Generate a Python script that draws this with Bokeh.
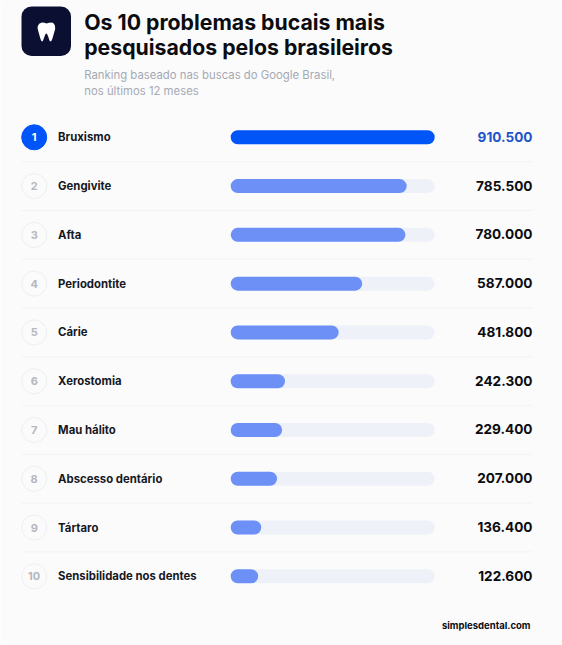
from bokeh.plotting import figure
from bokeh.models import Range1d
from bokeh.core.properties import value
from bokeh.embed import file_html
from bokeh.resources import INLINE

ranks = [1, 2, 3, 4, 5, 6, 7, 8, 9, 10]
names = ["Bruxismo", "Gengivite", "Afta", "Periodontite", "Cárie", "Xerostomia",
         "Mau hálito", "Abscesso dentário", "Tártaro", "Sensibilidade nos dentes"]
searches = [910500, 785500, 780000, 587000, 481800, 242300, 229400, 207000, 136400, 122600]
value_labels = ["910.500", "785.500", "780.000", "587.000", "481.800", "242.300",
                "229.400", "207.000", "136.400", "122.600"]
title_lines = ["Os 10 problemas bucais mais", "pesquisados pelos brasileiros"]
subtitle_lines = ["Ranking baseado nas buscas do Google Brasil,", "nos últimos 12 meses"]
footer = "simplesdental.com"

W, H = 562, 645
BAR_L, BAR_W = 230.2, 204.0
ROW0, ROW_H = 136.8, 48.78
MAXV = max(searches)
k = MAXV / BAR_W
BG = "#FBFBFC"
FONT = value("Inter")

p = figure(width=W, height=H, output_backend="svg", toolbar_location=None,
           x_range=Range1d(-BAR_L * k, (W - BAR_L) * k),
           y_range=Range1d(1 + (H - ROW0) / ROW_H, 1 - ROW0 / ROW_H),
           min_border=0, outline_line_color=None, background_fill_color=BG,
           border_fill_color=BG, x_axis_location=None, y_axis_location=None,
           styles={"position": "absolute", "left": "0", "top": "0"})
p.grid.visible = False
p.extra_x_ranges = {"px": Range1d(0, W)}
p.extra_y_ranges = {"px": Range1d(H, 0)}
PX = dict(x_range_name="px", y_range_name="px")

# separators
p.segment([21] * 9, [ROW0 + ROW_H * (i + .5) for i in range(9)],
          [532] * 9, [ROW0 + ROW_H * (i + .5) for i in range(9)],
          line_color="#F2F3F5", line_width=1, **PX)

# tracks and bars
bar_h = 14 / ROW_H
p.hbar(y=ranks, left=0, right=[MAXV] * 10, height=bar_h, fill_color="#EEF1F8",
       line_color=None, border_radius=7)
p.hbar(y=ranks, left=0, right=searches, height=bar_h, line_color=None, border_radius=7,
       fill_color=["#0055F8"] + ["#6C90F5"] * 9)

# rank circles
sx = [33.7] * 10
sy = [ROW0 + ROW_H * (r - 1) for r in ranks]
p.scatter(sx, sy, size=25, fill_color=["#0055F8"] + [BG] * 9,
          line_color=["#0055F8"] + ["#EEEFF2"] * 9, line_width=1, **PX)
p.text(sx, sy, text=[str(r) for r in ranks], text_align="center", text_baseline="middle",
       text_font=FONT, text_font_size="11px", text_font_style="bold",
       text_color=["#FFFFFF"] + ["#B4B7BD"] * 9, **PX)

# labels and values
p.text([57.6] * 10, sy, text=names, text_baseline="middle", text_font=FONT,
       text_font_size="11.35px", text_font_style="bold", text_color="#16181F", **PX)
p.text([532] * 10, [y - 0.5 for y in sy], text=value_labels, text_align="right", text_baseline="middle",
       text_font=FONT, text_font_size="13.6px", text_font_style="bold",
       text_color=["#1F55C8"] + ["#0B0C10"] * 9, **PX)

# header
p.quad(left=[21], right=[70.5], top=[6], bottom=[55.5], fill_color="#0B1033",
       line_color=None, border_radius=10, **PX)
tooth_x = [37, 37.5, 39, 41.5, 44, 46, 48.5, 51.5, 53.5, 54.5, 54.7, 53.8, 52.8, 51.8, 50.7, 49.3,
           48.3, 47.5, 46.5, 45.7, 45, 44.2, 43.3, 42.2, 41, 40, 39, 38]
tooth_y = [27.5, 25, 23, 22, 22.2, 23, 22.2, 22, 23.2, 25.5, 28.5, 31.5, 35, 38.5, 40.7, 40.7,
           38, 35.5, 33.5, 33, 33.5, 35.5, 38, 40.7, 40.7, 38.5, 35, 31.5]
p.patch(tooth_x, tooth_y, fill_color="#FFFFFF", line_color=None, **PX)
p.text([83.7, 83.7], [21, 46], text=title_lines, text_baseline="middle", text_font=FONT,
       text_font_size="21.25px", text_font_style="bold", text_color="#0B0C10", **PX)
p.text([83.7, 83.7], [74, 90], text=subtitle_lines, text_baseline="middle", text_font=FONT,
       text_font_size="11.35px", text_color="#A5A9B3", **PX)
p.text([530], [625], text=[footer], text_align="right", text_baseline="middle", text_font=FONT,
       text_font_size="9.5px", text_font_style="bold", text_color="#0B0C10", **PX)

open("out.html", "w").write(file_html(p, INLINE))
